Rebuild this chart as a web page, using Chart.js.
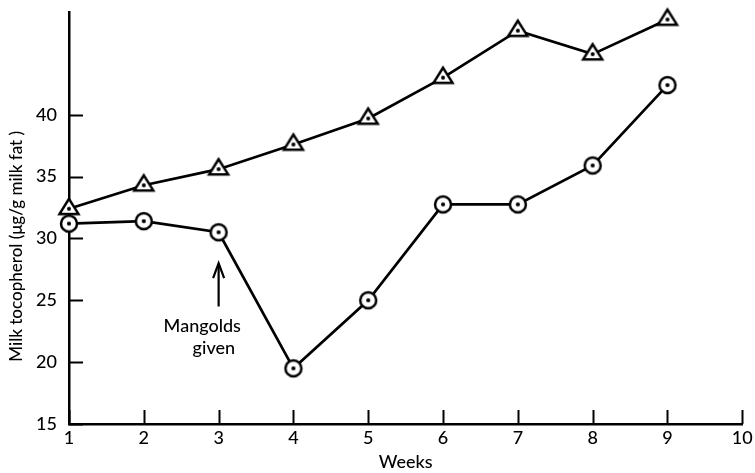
<!DOCTYPE html>
<html>
<head>
<meta charset="utf-8">
<script src="https://cdn.jsdelivr.net/npm/chart.js@4.4.1/dist/chart.umd.min.js"></script>
<style>
  html, body { margin: 0; padding: 0; background: #fff; }
  #wrap { width: 755px; height: 473px; }
</style>
</head>
<body>
<div id="wrap"><canvas id="chart" width="755" height="473"></canvas></div>
<script>
// Weekly milk tocopherol, two groups of cows
const weeks = [1, 2, 3, 4, 5, 6, 7, 8, 9];
const triangleGroup = [32.4, 34.3, 35.6, 37.6, 39.7, 43.0, 46.8, 44.9, 47.7];
const circleGroup = [31.2, 31.4, 30.5, 19.5, 25.0, 32.75, 32.75, 35.9, 42.4];

const yTickValues = [15, 20, 25, 30, 35, 40];
const xTickValues = [1, 2, 3, 4, 5, 6, 7, 8, 9, 10];

const yTitle = 'Milk tocopherol (\u03bcg/g milk fat )';
const xTitle = 'Weeks';
const noteLines = ['Mangolds', 'given'];
const noteWeek = 3;
const arrowFrom = 24.5;
const arrowTo = 28.0;

const INK = '#000';
const FONT = 'Lato, "Open Sans", sans-serif';
const WEIGHT = 500;

// open-symbol markers with a dot in the middle
function circleMarker() {
  const c = document.createElement('canvas');
  c.width = 24; c.height = 24;
  const g = c.getContext('2d');
  g.beginPath(); g.arc(12, 12, 8, 0, Math.PI * 2);
  g.fillStyle = '#fff'; g.fill();
  g.lineWidth = 2.5; g.strokeStyle = INK; g.stroke();
  g.beginPath(); g.arc(12, 12, 2.1, 0, Math.PI * 2);
  g.fillStyle = INK; g.fill();
  return c;
}
function triangleMarker() {
  const c = document.createElement('canvas');
  c.width = 26; c.height = 26;
  const g = c.getContext('2d');
  g.beginPath();
  g.moveTo(13, 3); g.lineTo(3.5, 18.2); g.lineTo(22.5, 18.2); g.closePath();
  g.fillStyle = '#fff'; g.fill();
  g.lineJoin = 'miter';
  g.lineWidth = 2.5; g.strokeStyle = INK; g.stroke();
  g.beginPath(); g.arc(13, 13, 2, 0, Math.PI * 2);
  g.fillStyle = INK; g.fill();
  return c;
}

// inward ticks, the arrow note and the rotated y title
const decorations = {
  id: 'decorations',
  afterDraw(chart) {
    const { ctx, chartArea: a, scales: { x, y } } = chart;
    ctx.save();
    ctx.strokeStyle = INK;
    ctx.fillStyle = INK;
    ctx.lineWidth = 2;
    ctx.lineCap = 'butt';
    yTickValues.forEach(v => {
      const py = Math.round(y.getPixelForValue(v)) + 0.5;
      ctx.beginPath(); ctx.moveTo(a.left, py); ctx.lineTo(a.left + 14, py); ctx.stroke();
    });
    xTickValues.forEach(v => {
      const px = Math.round(x.getPixelForValue(v)) + 0.5;
      ctx.beginPath(); ctx.moveTo(px, a.bottom); ctx.lineTo(px, a.bottom - 14); ctx.stroke();
    });

    // arrow pointing up at week 3
    const ax = x.getPixelForValue(noteWeek);
    const y0 = y.getPixelForValue(arrowFrom);
    const y1 = y.getPixelForValue(arrowTo);
    ctx.lineWidth = 2.2;
    ctx.beginPath(); ctx.moveTo(ax, y0); ctx.lineTo(ax, y1 + 1); ctx.stroke();
    ctx.beginPath();
    ctx.moveTo(ax - 5.5, y1 + 15); ctx.lineTo(ax, y1); ctx.lineTo(ax + 5.5, y1 + 15);
    ctx.stroke();

    ctx.font = WEIGHT + ' 18px ' + FONT;
    ctx.textBaseline = 'middle';
    ctx.textAlign = 'left';
    ctx.fillText(noteLines[0], ax - 55, y0 + 20);
    ctx.fillText(noteLines[1], ax - 26, y0 + 42);

    // y axis title
    ctx.font = WEIGHT + ' 17px ' + FONT;
    ctx.translate(a.left - 52, (a.top + a.bottom) / 2 + 28);
    ctx.rotate(-Math.PI / 2);
    ctx.textAlign = 'center';
    ctx.fillText(yTitle, 0, 0);
    ctx.restore();
  }
};

const ctx = document.getElementById('chart').getContext('2d');
new Chart(ctx, {
  type: 'line',
  data: {
    datasets: [
      {
        data: weeks.map((w, i) => ({ x: w, y: triangleGroup[i] })),
        borderColor: INK,
        borderWidth: 2.7,
        pointStyle: triangleMarker(),
        pointRadius: 10,
        fill: false,
        clip: false,
        tension: 0
      },
      {
        data: weeks.map((w, i) => ({ x: w, y: circleGroup[i] })),
        borderColor: INK,
        borderWidth: 2.7,
        pointStyle: circleMarker(),
        pointRadius: 10,
        fill: false,
        clip: false,
        tension: 0
      }
    ]
  },
  options: {
    responsive: false,
    devicePixelRatio: 1,
    animation: false,
    layout: { padding: { top: 10, right: 5, left: 0, bottom: 0 } },
    plugins: {
      legend: { display: false },
      tooltip: { enabled: false }
    },
    scales: {
      x: {
        type: 'linear',
        min: 1,
        max: 10,
        afterBuildTicks: s => { s.ticks = xTickValues.map(v => ({ value: v })); },
        afterFit: s => { s.paddingRight = 0; s.paddingLeft = 0; s.height = 49; },
        grid: { drawOnChartArea: false, drawTicks: false },
        border: { display: true, color: INK, width: 2.5 },
        ticks: {
          color: INK,
          padding: 3,
          maxRotation: 0,
          autoSkip: false,
          font: { family: FONT, size: 18, weight: WEIGHT }
        },
        title: {
          display: true,
          text: xTitle,
          color: INK,
          padding: { top: 4, bottom: 0 },
          font: { family: FONT, size: 18, weight: WEIGHT }
        }
      },
      y: {
        type: 'linear',
        min: 15,
        max: 48.25,
        afterBuildTicks: s => { s.ticks = yTickValues.map(v => ({ value: v })); },
        afterFit: s => { s.width = 69; s.paddingTop = 0; s.paddingBottom = 0; },
        grid: { drawOnChartArea: false, drawTicks: false },
        border: { display: true, color: INK, width: 2.5 },
        ticks: {
          color: INK,
          padding: 12,
          font: { family: FONT, size: 18, weight: WEIGHT }
        }
      }
    }
  },
  plugins: [decorations]
});
</script>
</body>
</html>
